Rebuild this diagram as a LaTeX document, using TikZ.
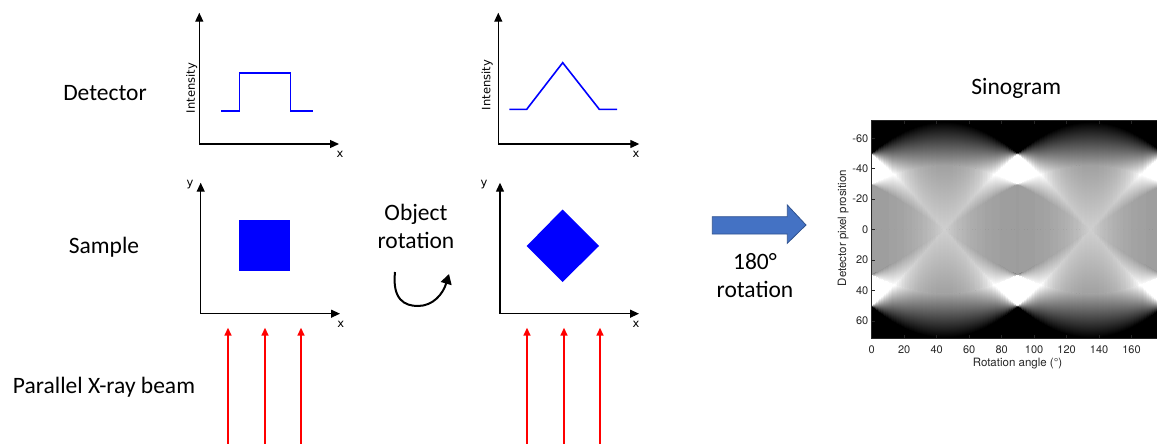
\documentclass[tikz,border=0pt]{standalone}
\usepackage{fontspec}
\setmainfont{Carlito}
\newfontfamily\plotfont{DejaVu Sans}
\newfontfamily\matfont{TeX Gyre Heros}
\usetikzlibrary{arrows.meta, positioning, calc}
\definecolor{beamred}{HTML}{FF0000}
\definecolor{shapeblue}{HTML}{0000FF}
\definecolor{arrowfill}{HTML}{4472C4}
\definecolor{arrowedge}{HTML}{2F528F}
\definecolor{axisgray}{HTML}{262626}

\begin{document}
\begin{tikzpicture}[x=1pt, y=-1pt,
    lbl/.style={font=\fontsize{23.5}{28}\selectfont, text=black, inner sep=0pt, anchor=base},
    small/.style={font=\plotfont\fontsize{11.5}{13}\selectfont, inner sep=0pt},
    axis/.style={{Triangle[length=9pt,width=8pt]}-{Triangle[length=9pt,width=8pt]}, line width=1.3pt, black},
    trace/.style={shapeblue, line width=1.6pt},
    ray/.style={-{Triangle[length=8pt,width=7pt]}, line width=1.6pt, beamred},
    turn/.style={-{Triangle[length=10pt,width=11pt]}, line width=2pt, black},
    tick/.style={font=\matfont\fontsize{11}{13}\selectfont, text=axisgray, inner sep=0pt},
    frame/.style={axisgray, line width=0.5pt},
    declare function={lsq(\a,\r,\p,\q)=max(0,min(2*\a/\p,(\a*(\p+\q)-\r)/(\p*\q)));
        gfr(\r,\p,\q)=100*(max(lsq(50,\r,\p,\q)-0.75*lsq(30,\r,\p,\q),0.01)/100)^0.8;}
]
\useasboundingbox (0,0) rectangle (1157,444);

\node[lbl] (det) at (105,100) {Detector};
\node[lbl] (smp) at (104,253.5) {Sample};
\node[lbl] (beam) at (104,393.3) {Parallel X-ray beam};

% detector profiles
\coordinate (o1) at (199.3,144);
\coordinate (yt1) at (199.3,12.7);
\coordinate (xt1) at (339,144);
\draw[axis] (yt1) -- (o1) -- (xt1);
\node[small] (xl1) at (340,154) {x};
\node[small, rotate=90] (int1) at (191.7,88) {Intensity};
\draw[trace] (221,111) -- (239.3,111) -- (239.3,73) -- (290.3,73) -- (290.3,111) -- (312.7,111);

\coordinate (o2) at (498.3,144);
\coordinate (yt2) at (498.3,12.7);
\coordinate (xt2) at (639.3,144);
\draw[axis] (yt2) -- (o2) -- (xt2);
\node[small] (xl2) at (636,154) {x};
\node[small, rotate=90] (int2) at (487.3,85) {Intensity};
\draw[trace] (509.3,109.3) -- (526.7,109.3) -- (562.7,62.7) -- (599.3,109.3) -- (617,109.3);

% samples
\coordinate (o3) at (200.7,313.7);
\coordinate (yt3) at (200.7,182.7);
\coordinate (xt3) at (340,313.7);
\draw[axis] (yt3) -- (o3) -- (xt3);
\node[small] (yl3) at (190,185) {y};
\node[small] (xl3) at (340.7,324.3) {x};
\fill[shapeblue] (239,220) rectangle (290,271);

\coordinate (o4) at (500,313.7);
\coordinate (yt4) at (500,182.7);
\coordinate (xt4) at (639,313.7);
\draw[axis] (yt4) -- (o4) -- (xt4);
\node[small] (yl4) at (484,185) {y};
\node[small] (xl4) at (636,324) {x};
\fill[shapeblue] (526.7,246) -- (562.5,209.5) -- (599,246) -- (562.5,282) -- cycle;

\foreach \bx [count=\i] in {228,265,301,527,564,600} {
    \coordinate (rb\i) at (\bx,444);
    \coordinate (rt\i) at (\bx,327.7);
    \draw[ray] (rb\i) -- (rt\i);
}

\node[lbl, align=center] (objrot) at (416,248) {Object\\rotation};
\coordinate (rs) at (395,272);
\coordinate (re) at (449,274);
\draw[turn] (rs) .. controls (392,300) and (405,306) .. (418,306) .. controls (433,306) and (443,294) .. (re);

\fill[arrowfill, draw=arrowedge, line width=0.8pt] (712.3,216.7) -- (787.3,216.7) -- (787.3,205) -- (806,225)
    -- (787.3,243.3) -- (787.3,234) -- (712.3,234) -- cycle;
\node[lbl, align=center] (rot180) at (755,297) {180°\\rotation};

% sinogram of a square frame
\node[lbl] (sino) at (1016.3,95) {Sinogram};
\coordinate (s0) at (871.7,229.5);
\begin{scope}[shift={(s0)}, x=1.624pt, y=-1.5217pt]
    \clip (0,-71.5) rectangle (176,71.5);
    \fill[black] (0,-71.5) rectangle (176,71.5);
    \foreach \ang in {0,1,...,175} {
        \pgfmathsetmacro\cth{abs(cos(\ang+0.5))}
        \pgfmathsetmacro\sth{abs(sin(\ang+0.5))}
        \pgfmathsetmacro\pth{max(\cth,\sth)}
        \pgfmathsetmacro\qth{max(min(\cth,\sth),0.008)}
        \pgfmathsetmacro\ba{30*(\pth-\qth)}
        \pgfmathsetmacro\bb{min(30*(\pth+\qth),50*(\pth-\qth))}
        \pgfmathsetmacro\bc{max(30*(\pth+\qth),50*(\pth-\qth))}
        \pgfmathsetmacro\bd{50*(\pth+\qth)}
        \foreach \u/\w in {0/\ba,\ba/\bb,\bb/\bc,\bc/\bd} {
            \pgfmathsetmacro\hh{\w-\u}
            \ifdim\hh pt>0.05pt
                \pgfmathtruncatemacro\gu{min(100,gfr(\u+0.01,\pth,\qth))}
                \pgfmathtruncatemacro\gw{min(100,gfr(\w-0.01,\pth,\qth))}
                \shade[top color=white!\gu!black, bottom color=white!\gw!black] (\ang-0.05,\u-0.1) rectangle (\ang+1.05,\w+0.1);
                \shade[top color=white!\gw!black, bottom color=white!\gu!black] (\ang-0.05,-\w-0.1) rectangle (\ang+1.05,-\u+0.1);
            \fi
        }
    }
\end{scope}
\begin{scope}[shift={(s0)}, x=1.624pt, y=-1.5217pt]
    \draw[frame] (176,-71.5) -- (0,-71.5) -- (0,71.5) -- (176,71.5);
    \foreach \ang in {0,20,...,160} {
        \draw[frame] (\ang,71.5) -- ++(0,-2);
        \draw[frame] (\ang,-71.5) -- ++(0,2);
        \node[tick] (xtick\ang) at (\ang,79.2) {\ang};
    }
    \foreach \dpos in {-60,-40,...,60} {
        \draw[frame] (0,\dpos) -- ++(1.8,0);
        \node[tick, anchor=east] (ytick\dpos) at (-2,\dpos) {\dpos};
    }
\end{scope}
\node[tick, font=\matfont\fontsize{11.5}{13}\selectfont, rotate=90] (ylab) at (843.3,228) {Detector pixel prosition};
\node[tick, font=\matfont\fontsize{11.5}{13}\selectfont] (xlab) at (1017.5,363.3) {Rotation angle (°)};
\end{tikzpicture}
\end{document}
